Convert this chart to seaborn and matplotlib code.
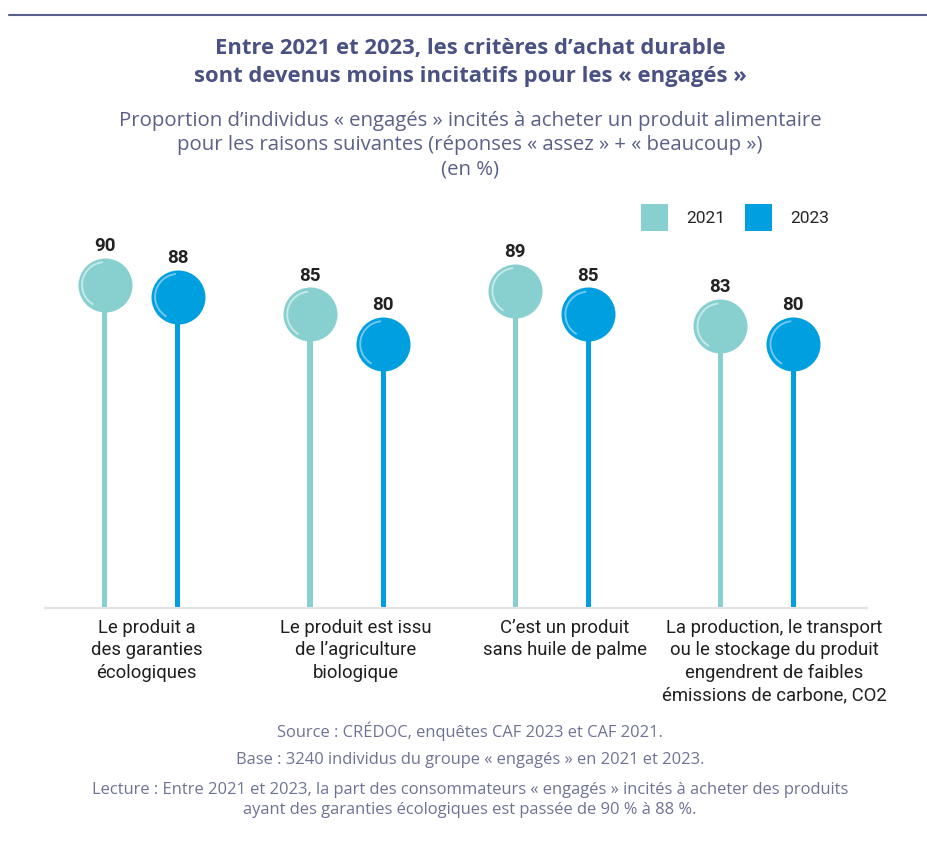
import matplotlib
matplotlib.use("Agg")
import matplotlib.pyplot as plt
import pandas as pd
import seaborn as sns
from matplotlib.lines import Line2D
from matplotlib.patches import Patch
from matplotlib.path import Path
from matplotlib.markers import MarkerStyle
from matplotlib.transforms import ScaledTranslation

# Purchase criteria and share of "engagés" consumers (%) per survey year
categories = [
    "Le produit a\ndes garanties\nécologiques",
    "Le produit est issu\nde l’agriculture\nbiologique",
    "C’est un produit\nsans huile de palme",
    "La production, le transport\nou le stockage du produit\nengendrent de faibles\némissions de carbone, CO2",
]
years = ["2021", "2023"]
values_2021 = [90, 85, 89, 83]
values_2023 = [88, 80, 85, 80]

colors = {"2021": "#88cfd0", "2023": "#009fdf"}
highlights = {"2021": "#c4e9e9", "2023": "#6fc8f0"}

df = pd.DataFrame({
    "critere": categories * 2,
    "annee": [years[0]] * len(categories) + [years[1]] * len(categories),
    "pct": values_2021 + values_2023,
})

sns.set_theme(style="white")
plt.rcParams["font.family"] = ["Roboto", "DejaVu Sans"]

W, H = 927, 849
fig = plt.figure(figsize=(W / 100, H / 100), dpi=100)
ax = fig.add_axes([45 / W, 1 - 607.7 / H, (867 - 45) / W, (607.7 - 200) / H])

# thin bars act as the lollipop stems
sns.barplot(data=df, x="critere", y="pct", hue="annee", order=categories,
            hue_order=years, palette=colors, width=0.712, gap=0.93,
            saturation=1, linewidth=0, legend=False, ax=ax)

arc_marker = MarkerStyle(Path.arc(95, 240))

for year, cont in zip(years, ax.containers):
    xs = [p.get_x() + p.get_width() / 2 for p in cont]
    ys = [p.get_height() for p in cont]
    sns.scatterplot(x=xs, y=ys, s=1513, color=colors[year], linewidth=0,
                    ax=ax, zorder=3, legend=False, clip_on=False)
    ax.scatter(xs, ys, s=1130, marker=arc_marker, facecolors="none",
               edgecolors=highlights[year], linewidths=1.4, zorder=4, clip_on=False)
    for x, y in zip(xs, ys):
        ax.annotate(f"{y:.0f}", (x, y), xytext=(0, 28), textcoords="offset points",
                    ha="center", va="center", fontsize=13.5, fontweight="bold",
                    color="#222222")

ax.set_xlim(-0.47, 3.537)
ax.set_ylim(35.3, 104.4)
ax.set_yticks([])
ax.set_xlabel("")
ax.set_ylabel("")
for side in ["top", "left", "right"]:
    ax.spines[side].set_visible(False)
ax.spines["bottom"].set_color("#e3e3e3")
ax.spines["bottom"].set_linewidth(1.5)
ax.spines["bottom"].set_zorder(5)
ax.tick_params(axis="x", length=0, pad=8, labelsize=13.3, labelcolor="#1f1f1f")
# category captions sit slightly right of their stems, more so further right
for i, t in enumerate(ax.get_xticklabels()):
    t.set_linespacing(1.32)
    t.set_transform(t.get_transform() + ScaledTranslation((5 + 4.2 * i) / 100, 0, fig.dpi_scale_trans))

handles = [Patch(facecolor=colors[y], edgecolor="none", label=y) for y in years]
fig.legend(handles=handles, loc="upper left", bbox_to_anchor=(641 / W, 1 - 204 / H),
           ncol=2, frameon=False, fontsize=12.5, handlelength=1.56, handleheight=2.02,
           handletextpad=1.05, columnspacing=1.14, borderpad=0, borderaxespad=0)

# header rule
fig.add_artist(Line2D([9 / W, 1], [1 - 14.5 / H, 1 - 14.5 / H], color="#56608a", lw=1.5))

hdr = ["Open Sans", "DejaVu Sans"]
fig.text(470 / W, 1 - 62.5 / H,
         "Entre 2021 et 2023, les critères d’achat durable\nsont devenus moins incitatifs pour les « engagés »",
         ha="center", va="center", fontsize=15.8, fontweight="bold", color="#4a5183",
         family=hdr, linespacing=1.45)
fig.text(470 / W, 1 - 145 / H,
         "Proportion d’individus « engagés » incités à acheter un produit alimentaire\n"
         "pour les raisons suivantes (réponses « assez » + « beaucoup »)\n(en %)",
         ha="center", va="center", fontsize=14.7, color="#5b6089", family=hdr,
         linespacing=1.27)

foot_color = "#6e7396"
fs_foot = 11.9
fig.text(470 / W, 1 - 731 / H, "Source : CRÉDOC, enquêtes CAF 2023 et CAF 2021.",
         ha="center", va="center", fontsize=fs_foot, color=foot_color, family=hdr)
fig.text(470 / W, 1 - 760 / H, "Base : 3240 individus du groupe « engagés » en 2021 et 2023.",
         ha="center", va="center", fontsize=fs_foot, color=foot_color, family=hdr)
fig.text(470 / W, 1 - 800 / H,
         "Lecture : Entre 2021 et 2023, la part des consommateurs « engagés » incités à acheter des produits\n"
         "ayant des garanties écologiques est passée de 90 % à 88 %.",
         ha="center", va="center", fontsize=fs_foot, color=foot_color, family=hdr,
         linespacing=1.31)

fig.savefig("out.png", dpi=100, facecolor="white")
